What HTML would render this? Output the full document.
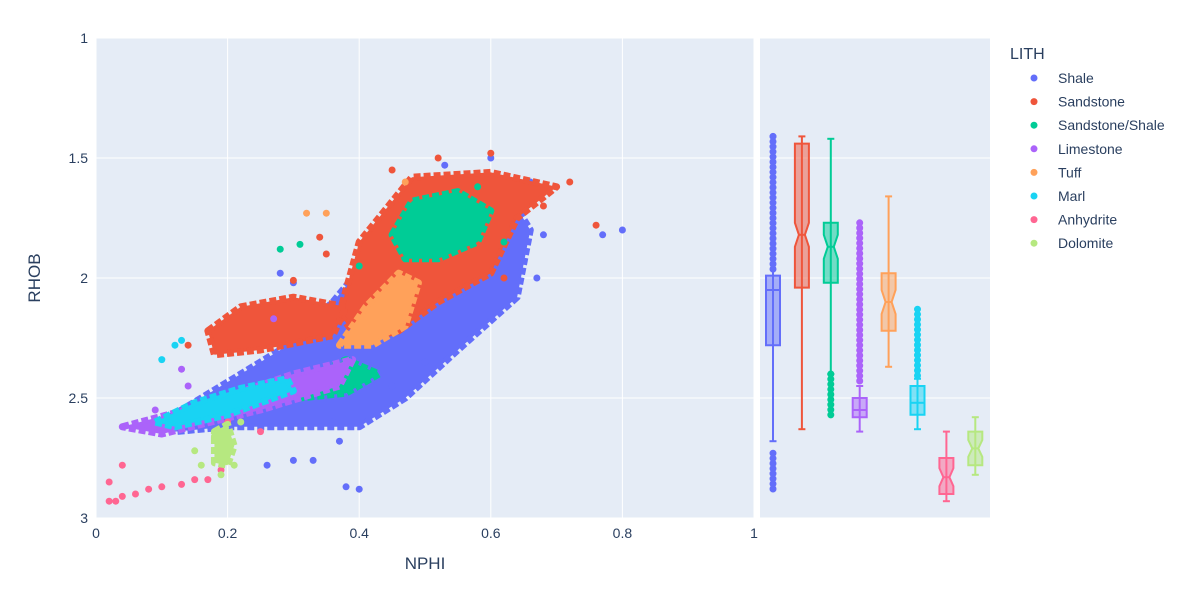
<!DOCTYPE html>
<html><head><meta charset="utf-8"><style>
body{margin:0;background:#fff;font-family:"Liberation Sans",sans-serif}
svg text{font-family:"Liberation Sans",sans-serif;fill:#2a3f5f}
</style></head><body>
<svg id="chart" width="1198" height="594" xmlns="http://www.w3.org/2000/svg">
<rect x="96" y="38" width="658" height="480" fill="#e5ecf6"/>
<rect x="760" y="38" width="230" height="480" fill="#e5ecf6"/>
<g id="grid"></g><g id="marks"></g><g id="boxes"></g><g id="axes"></g><g id="legend"></g>
</svg>
<script>
const NS="http://www.w3.org/2000/svg";
const seriesNames=["Shale","Sandstone","Sandstone/Shale","Limestone","Tuff","Marl","Anhydrite","Dolomite"];
const seriesColors=["#636efa","#EF553B","#00cc96","#ab63fa","#FFA15A","#19d3f3","#FF6692","#B6E880"];
const xTicks=[0,0.2,0.4,0.6,0.8,1];
const xTickLabels=["0","0.2","0.4","0.6","0.8","1"];
const yTicks=[1,1.5,2,2.5,3];
const yTickLabels=["1","1.5","2","2.5","3"];
// cloud regions per series [NPHI,RHOB] vertices
const shaleRegions=[[[0.1,2.6],[0.28,2.3],[0.36,2.1],[0.42,1.9],[0.5,1.65],[0.62,1.62],[0.66,1.8],[0.64,2.08],[0.55,2.3],[0.47,2.5],[0.4,2.62],[0.3,2.62],[0.2,2.62],[0.12,2.64]]];
const sandRegions=[[[0.37,2.15],[0.4,1.85],[0.48,1.58],[0.6,1.56],[0.7,1.62],[0.64,1.75],[0.6,1.98],[0.52,2.1],[0.46,2.22],[0.4,2.26]],[[0.17,2.22],[0.22,2.12],[0.3,2.08],[0.38,2.12],[0.36,2.24],[0.25,2.3],[0.18,2.32]]];
const ssRegions=[[[0.45,1.82],[0.48,1.68],[0.55,1.64],[0.6,1.72],[0.58,1.85],[0.52,1.92],[0.47,1.92]],[[0.32,2.42],[0.38,2.34],[0.43,2.4],[0.38,2.48],[0.31,2.5]]];
const limeRegions=[[[0.04,2.62],[0.15,2.54],[0.3,2.4],[0.39,2.34],[0.37,2.45],[0.25,2.55],[0.1,2.65]]];
const tuffRegions=[[[0.37,2.28],[0.41,2.12],[0.46,1.98],[0.49,2.02],[0.47,2.2],[0.42,2.28]]];
const marlRegions=[[[0.09,2.6],[0.15,2.52],[0.22,2.46],[0.29,2.42],[0.3,2.47],[0.2,2.57],[0.12,2.62]]];
const anhRegions=[];
const dolRegions=[[[0.18,2.64],[0.2,2.61],[0.21,2.7],[0.2,2.78],[0.18,2.77]]];
const allRegions=[shaleRegions,sandRegions,ssRegions,limeRegions,tuffRegions,marlRegions,anhRegions,dolRegions];
// extra visible individual points
const shalePts=[[0.8,1.8],[0.77,1.82],[0.4,2.88],[0.38,2.87],[0.33,2.76],[0.3,2.76],[0.26,2.78],[0.37,2.68],[0.55,1.58],[0.6,1.5],[0.66,1.6],[0.53,1.53],[0.28,1.98],[0.3,2.02],[0.36,2.6],[0.68,1.82],[0.67,2.0],[0.45,2.45],[0.5,2.35]];
const sandPts=[[0.6,1.48],[0.52,1.5],[0.76,1.78],[0.72,1.6],[0.3,2.01],[0.34,1.83],[0.45,1.55],[0.68,1.7],[0.62,2.0],[0.35,1.9],[0.14,2.28]];
const ssPts=[[0.31,1.86],[0.28,1.88],[0.58,1.62],[0.62,1.85],[0.4,1.95]];
const limePts=[[0.14,2.45],[0.27,2.17],[0.13,2.38],[0.09,2.55]];
const tuffPts=[[0.32,1.73],[0.35,1.73],[0.47,1.6]];
const marlPts=[[0.13,2.26],[0.12,2.28],[0.1,2.34]];
const anhPts=[[0.02,2.93],[0.03,2.93],[0.04,2.91],[0.06,2.9],[0.08,2.88],[0.1,2.87],[0.13,2.86],[0.15,2.84],[0.17,2.84],[0.19,2.8],[0.04,2.78],[0.02,2.85],[0.2,2.6],[0.25,2.64]];
const dolPts=[[0.16,2.78],[0.19,2.82],[0.21,2.78],[0.15,2.72],[0.22,2.6],[0.18,2.66]];
const allPts=[shalePts,sandPts,ssPts,limePts,tuffPts,marlPts,anhPts,dolPts];
// box stats
const boxQ1=[2.28,2.04,2.02,2.58,2.22,2.57,2.9,2.78];
const boxMed=[2.05,1.82,1.87,2.55,2.1,2.52,2.83,2.71];
const boxQ3=[1.99,1.44,1.77,2.5,1.98,2.45,2.75,2.64];
const boxLo=[2.68,2.63,2.4,2.64,2.37,2.63,2.93,2.82];
const boxHi=[1.41,1.41,1.42,2.45,1.66,2.42,2.64,2.58];
const boxOutHi=[[1.41,1.98],null,null,[1.77,2.45],null,[2.13,2.42],null,null];
const boxOutLo=[[2.73,2.9],null,[2.4,2.58],null,null,null,null,null];

const X=v=>96+v*658, Y=v=>38+(v-1)*240;
function el(t,a,p){const e=document.createElementNS(NS,t);for(const k in a)e.setAttribute(k,a[k]);document.getElementById(p).appendChild(e);return e;}
xTicks.forEach((t,i)=>{
  const g=el("line",{x1:X(t),x2:X(t),y1:38,y2:518,stroke:"#fff","stroke-width":1},"grid");
  
  
  const tx=el("text",{x:X(t),y:538,"text-anchor":"middle","font-size":14},"axes");tx.textContent=xTickLabels[i];
  
  
});
yTicks.forEach((t,i)=>{
  [[96,754],[760,990]].forEach(r=>{const g=el("line",{x1:r[0],x2:r[1],y1:Y(t),y2:Y(t),stroke:"#fff","stroke-width":1},"grid");
  
  });
  const tx=el("text",{x:88,y:Y(t)+5,"text-anchor":"end","font-size":14},"axes");tx.textContent=yTickLabels[i];
  
  
});
let t1=el("text",{x:425,y:569,"text-anchor":"middle","font-size":17},"axes");t1.textContent="NPHI";


let t2=el("text",{x:40,y:278,"text-anchor":"middle","font-size":17,transform:"rotate(-90 40 278)"},"axes");t2.textContent="RHOB";



seriesNames.forEach((n,s)=>{
  const c=seriesColors[s];
  allRegions[s].forEach(poly=>{
    const p=el("polygon",{points:poly.map(q=>X(q[0])+","+Y(q[1])).join(" "),fill:c,stroke:c,"stroke-width":7,"stroke-linejoin":"round","stroke-dasharray":"7 3"},"marks");
    
    
  });
  allPts[s].forEach(q=>{
    const d=el("circle",{cx:X(q[0]),cy:Y(q[1]),r:3.5,fill:c},"marks");
    
    
  });
  const bx=773+s*28.9, w=14;
  const notch=(s==1||s==2||s==4||s==6||s==7)?4:0;
  const yq1=Y(boxQ1[s]),yq3=Y(boxQ3[s]),ym=Y(boxMed[s]);
  const nh=Math.min(12,(yq1-yq3)/4);
  let a=el("line",{x1:bx,x2:bx,y1:Y(boxHi[s]),y2:Y(boxLo[s]),stroke:c,"stroke-width":2},"boxes");
  
  
  el("line",{x1:bx-w/4,x2:bx+w/4,y1:Y(boxHi[s]),y2:Y(boxHi[s]),stroke:c,"stroke-width":2},"boxes");
  el("line",{x1:bx-w/4,x2:bx+w/4,y1:Y(boxLo[s]),y2:Y(boxLo[s]),stroke:c,"stroke-width":2},"boxes");
  const pts=[[bx-w/2,yq3],[bx+w/2,yq3],[bx+w/2,ym-nh],[bx+w/2-notch,ym],[bx+w/2,ym+nh],[bx+w/2,yq1],[bx-w/2,yq1],[bx-w/2,ym+nh],[bx-w/2+notch,ym],[bx-w/2,ym-nh]];
  const b=el("polygon",{points:pts.map(p=>p.join(",")).join(" "),fill:c,"fill-opacity":0.5,stroke:c,"stroke-width":2},"boxes");
  
  
  el("line",{x1:bx-w/2+notch,x2:bx+w/2-notch,y1:ym,y2:ym,stroke:c,"stroke-width":2},"boxes");
  [boxOutHi[s],boxOutLo[s]].forEach(o=>{if(o){
    const ol=el("line",{x1:bx,x2:bx,y1:Y(o[0]),y2:Y(o[1]),stroke:c,"stroke-width":7,"stroke-linecap":"round","stroke-dasharray":"0.1 5"},"boxes");
    
    }});
  const ly=78+s*23.6;
  const lc=el("circle",{cx:1034,cy:ly,r:3.5,fill:c},"legend");
  
  
  const lt=el("text",{x:1058,y:ly+5,"font-size":14},"legend");lt.textContent=n;
  
  
});
const lg=el("text",{x:1010,y:59,"font-size":16},"legend");lg.textContent="LITH";


</script>
</body></html>
